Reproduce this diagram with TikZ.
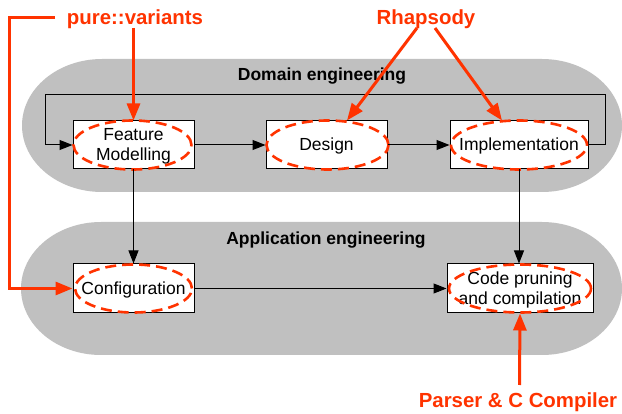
\documentclass[tikz,border=0pt]{standalone}
\usepackage{fontspec}
\setmainfont{Liberation Sans}
\usetikzlibrary{arrows.meta}
\definecolor{myred}{RGB}{255,51,0}
\definecolor{pillgray}{RGB}{192,192,192}
\newcommand{\lowtext}[1]{\raisebox{-1.6pt}[\height][\depth]{\begin{tabular}{@{}c@{}}#1\end{tabular}}}
\begin{document}
\begin{tikzpicture}[x=1pt,y=-1pt,
  box/.style={draw=black, fill=white, line width=1pt, inner sep=0pt,
    minimum height=48pt, font=\fontsize{17.5}{20}\selectfont, align=center},
  redell/.style={draw=myred, line width=2.6pt, dash pattern=on 11pt off 6pt},
  arr/.style={draw=black, line width=1pt, -{Triangle[length=13pt,width=10pt]}},
  redarr/.style={draw=myred, line width=3pt, -{Triangle[length=17pt,width=13pt]}},
  title/.style={font=\fontsize{17.5}{20}\selectfont\bfseries, anchor=base, inner sep=0pt},
  redlabel/.style={font=\fontsize{20.4}{24}\selectfont\bfseries, text=myred, anchor=base, inner sep=0pt},
  pill/.style={fill=pillgray, draw=none}
]
\useasboundingbox (0,0) rectangle (622,414);

% pills
\path[pill] (102,59) -- (542,59) arc[start angle=-90, end angle=90, x radius=80, y radius=66.5]
  -- (102,192) arc[start angle=90, end angle=270, x radius=80, y radius=66.5] -- cycle;
\path[pill] (101,222) -- (542,222) arc[start angle=-90, end angle=90, x radius=80, y radius=66.5]
  -- (101,355) arc[start angle=90, end angle=270, x radius=80, y radius=66.5] -- cycle;

\node[title] (dtitle) at (322,81) {Domain engineering};
\node[title] (atitle) at (326,245) {Application engineering};

% boxes
\node[box, minimum width=121pt] (fm) at (133.5,145) {\lowtext{Feature\\Modelling}};
\node[box, minimum width=121pt] (design) at (326.5,145) {\lowtext{Design}};
\node[box, minimum width=138pt] (impl) at (519,145) {\lowtext{Implementation}};
\node[box, minimum width=121pt, minimum height=49pt] (config) at (133.5,288.5) {\lowtext{Configuration}};
\node[box, minimum width=146pt, minimum height=49pt] (code) at (520,288.5) {\lowtext{Code pruning\\and compilation}};

% dashed ellipses
\draw[redell] ([xshift=-1pt]fm.center) ellipse[x radius=59pt, y radius=24.5pt];
\draw[redell] ([xshift=1pt]design.center) ellipse[x radius=61pt, y radius=24.5pt];
\draw[redell] (impl.center) ellipse[x radius=68pt, y radius=24.5pt];
\draw[redell] (config.center) ellipse[x radius=58.5pt, y radius=24pt];
\draw[redell] (code.center) ellipse[x radius=71pt, y radius=24pt];

% black connectors
\draw[arr] (fm.east) -- (design.west);
\draw[arr] (design.east) -- (impl.west);
\draw[arr] (impl.east) -| (605,95) -| (45,145) -- (fm.west);
\draw[arr] (fm.south) -- (config.north);
\draw[arr] (impl.south) -- (code.north -| impl.south);
\draw[arr] (config.east) -- (code.west);

% red labels
\node[redlabel] (pv) at (135,25) {pure::variants};
\node[redlabel] (rh) at (426,25) {Rhapsody};
\node[redlabel] (pc) at (518,407) {Parser \& C Compiler};

\coordinate (pvleft) at (55,18);
\coordinate (pvdown) at (133.5,28);
\coordinate (rhl) at (417,28);
\coordinate (rhr) at (435,28);
\coordinate (pcup) at (519.5,385);

\draw[redarr] (pvleft) -- (9,18) -- (9,288.5) -- (config.west);
\draw[redarr] (pvdown) -- (fm.north);
\draw[redarr] (rhl) -- ([xshift=20.5pt]design.north);
\draw[redarr] (rhr) -- ([xshift=-17pt]impl.north);
\draw[redarr] (pcup) -- (code.south);
\end{tikzpicture}
\end{document}
